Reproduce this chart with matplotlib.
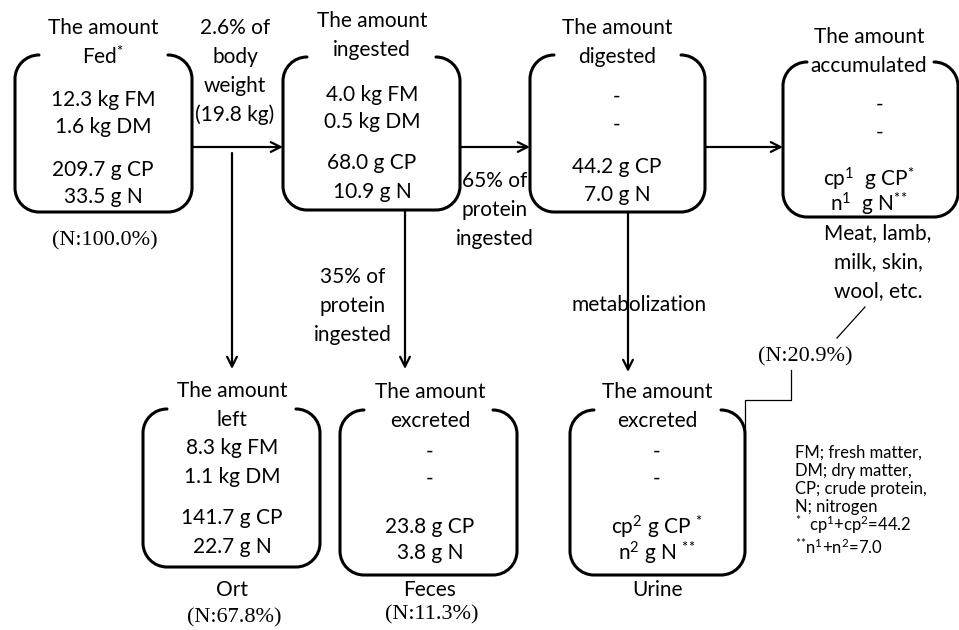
import numpy as np
import matplotlib
matplotlib.use("Agg")
import matplotlib.pyplot as plt
from matplotlib.path import Path
from matplotlib.patches import PathPatch

plt.rcParams["font.family"] = ["Lato", "DejaVu Sans"]
plt.rcParams["mathtext.fontset"] = "custom"
plt.rcParams["mathtext.rm"] = "Lato"
plt.rcParams["mathtext.it"] = "Lato:italic"
plt.rcParams["mathtext.bf"] = "Lato:bold"

# ---- text content -------------------------------------------------------
box_titles = [
    "The amount\nFed$^{\\text{*}}$",
    "The amount\ningested",
    "The amount\ndigested",
    "The amount\naccumulated",
    "The amount\nleft",
    "The amount\nexcreted",
    "The amount\nexcreted",
]
box_bodies = [
    ["12.3 kg FM", "1.6 kg DM", "209.7 g CP", "33.5 g N"],
    ["4.0 kg FM", "0.5 kg DM", "68.0 g CP", "10.9 g N"],
    ["-", "-", "44.2 g CP", "7.0 g N"],
    ["-", "-", "cp$^{1}$  g CP$^{\\text{*}}$", "n$^{1}$  g N$^{\\text{**}}$"],
    ["8.3 kg FM", "1.1 kg DM", "141.7 g CP", "22.7 g N"],
    ["-", "-", "23.8 g CP", "3.8 g N"],
    ["-", "-", "cp$^{2}$ g CP $^{\\text{*}}$", "n$^{2}$ g N $^{\\text{**}}$"],
]
box_names = ["", "", "", "", "Ort", "Feces", "Urine"]
n_shares = ["(N:100.0%)", "", "", "", "(N:67.8%)", "(N:11.3%)", ""]
accum_share = "(N:20.9%)"
accum_products = "Meat, lamb,\nmilk, skin,\nwool, etc."

flow_labels = [
    "2.6% of\nbody\nweight\n(19.8 kg)",
    "65% of\nprotein\ningested",
    "35% of\nprotein\ningested",
    "metabolization",
]
legend_lines = [
    "FM; fresh matter,",
    "DM; dry matter,",
    "CP; crude protein,",
    "N; nitrogen",
    "$^{\\text{*}}$  cp$^{1}$+cp$^{2}$=44.2",
    "$^{\\text{**}}$n$^{1}$+n$^{2}$=7.0",
]

# ---- layout (pixel coords, y down) --------------------------------------
# x0, x1, y_top, y_bottom, text x, title y, body y's
layout = [
    (15, 192, 55, 212, 103, 28, [100, 127, 170, 197]),
    (283, 460, 57, 210, 372, 21, [95, 122, 163, 192]),
    (530, 705, 55, 212, 617, 28, [97, 125, 167, 195]),
    (783, 958, 62, 217, 869, 37, [105, 133, 179, 204]),
    (143, 320, 409, 567, 232, 391, [448, 477, 518, 547]),
    (340, 517, 410, 575, 430, 392, [452, 479, 527, 553]),
    (570, 745, 410, 575, 657, 392, [452, 479, 527, 553]),
]
legend_y = [453, 471, 489, 507, 525, 547]

FS = 15
SERIF = "Liberation Serif"

fig = plt.figure(figsize=(9.59, 6.30), dpi=100)
ax = fig.add_axes([0, 0, 1, 1])
ax.set_xlim(0, 959)
ax.set_ylim(630, 0)
ax.axis("off")


def open_box(x0, x1, y0, y1, r=24):
    # rounded box without its top straight edge (title sits there)
    k = 0.5523 * r
    verts = [
        (x0 + r, y0), (x0 + r - k, y0), (x0, y0 + r - k), (x0, y0 + r),
        (x0, y1 - r),
        (x0, y1 - r + k), (x0 + r - k, y1), (x0 + r, y1),
        (x1 - r, y1),
        (x1 - r + k, y1), (x1, y1 - r + k), (x1, y1 - r),
        (x1, y0 + r),
        (x1, y0 + r - k), (x1 - r + k, y0), (x1 - r, y0),
    ]
    codes = [Path.MOVETO, Path.CURVE4, Path.CURVE4, Path.CURVE4,
             Path.LINETO,
             Path.CURVE4, Path.CURVE4, Path.CURVE4,
             Path.LINETO,
             Path.CURVE4, Path.CURVE4, Path.CURVE4,
             Path.LINETO,
             Path.CURVE4, Path.CURVE4, Path.CURVE4]
    ax.add_patch(PathPatch(Path(verts, codes), fill=False, lw=2.2,
                           edgecolor="black", capstyle="round"))


for i, (x0, x1, y0, y1, tx, ty, bys) in enumerate(layout):
    open_box(x0, x1, y0, y1)
    t1, t2 = box_titles[i].split("\n")
    ax.text(tx, ty, t1, ha="center", va="center", fontsize=FS)
    ax.text(tx, ty + 29, t2, ha="center", va="center", fontsize=FS)
    for line, by in zip(box_bodies[i], bys):
        bx = tx + 11 if (line == "-" and i == 3) else tx
        ax.text(bx, by, line, ha="center", va="center", fontsize=FS)
    if box_names[i]:
        ax.text(tx, 590, box_names[i], ha="center", va="center", fontsize=FS)
    if n_shares[i]:
        sy = 241 if i == 0 else (618 if i == 4 else 615)
        ax.text(tx + 2, sy, n_shares[i], ha="center", va="center",
                fontsize=16, family=SERIF)

# arrows
arrow_kw = dict(arrowstyle="->,head_length=0.7,head_width=0.35",
                lw=1.6, color="black", shrinkA=0, shrinkB=0)
arrows = [
    ((192, 147), (283, 147)),
    ((460, 147), (530, 147)),
    ((705, 147), (783, 147)),
    ((232, 153), (232, 369)),
    ((405, 210), (405, 369)),
    ((628, 212), (628, 372)),
]
for start, end in arrows:
    ax.annotate("", xy=end, xytext=start, arrowprops=arrow_kw)

# flow labels
for j, line in enumerate(flow_labels[0].split("\n")):
    ax.text(235, 28 + 29 * j, line, ha="center", va="center", fontsize=FS)
for j, line in enumerate(flow_labels[1].split("\n")):
    ax.text(495, 181 + 29 * j, line, ha="center", va="center", fontsize=FS)
for j, line in enumerate(flow_labels[2].split("\n")):
    ax.text(353, 277 + 29 * j, line, ha="center", va="center", fontsize=FS)
ax.text(639, 305, flow_labels[3], ha="center", va="center", fontsize=FS)

# accumulated products and its share
for j, line in enumerate(accum_products.split("\n")):
    ax.text(878, 233 + 29 * j, line, ha="center", va="center", fontsize=FS)
ax.plot([865, 837], [307, 338], color="black", lw=0.9)
ax.text(805, 357, accum_share, ha="center", va="center", fontsize=16,
        family=SERIF)
ax.plot([791, 791, 745, 745], [370, 400, 400, 430], color="black", lw=0.9)

# legend notes
for line, ly in zip(legend_lines, legend_y):
    ax.text(795, ly, line, ha="left", va="center", fontsize=12)

fig.savefig("out.png", dpi=100)
